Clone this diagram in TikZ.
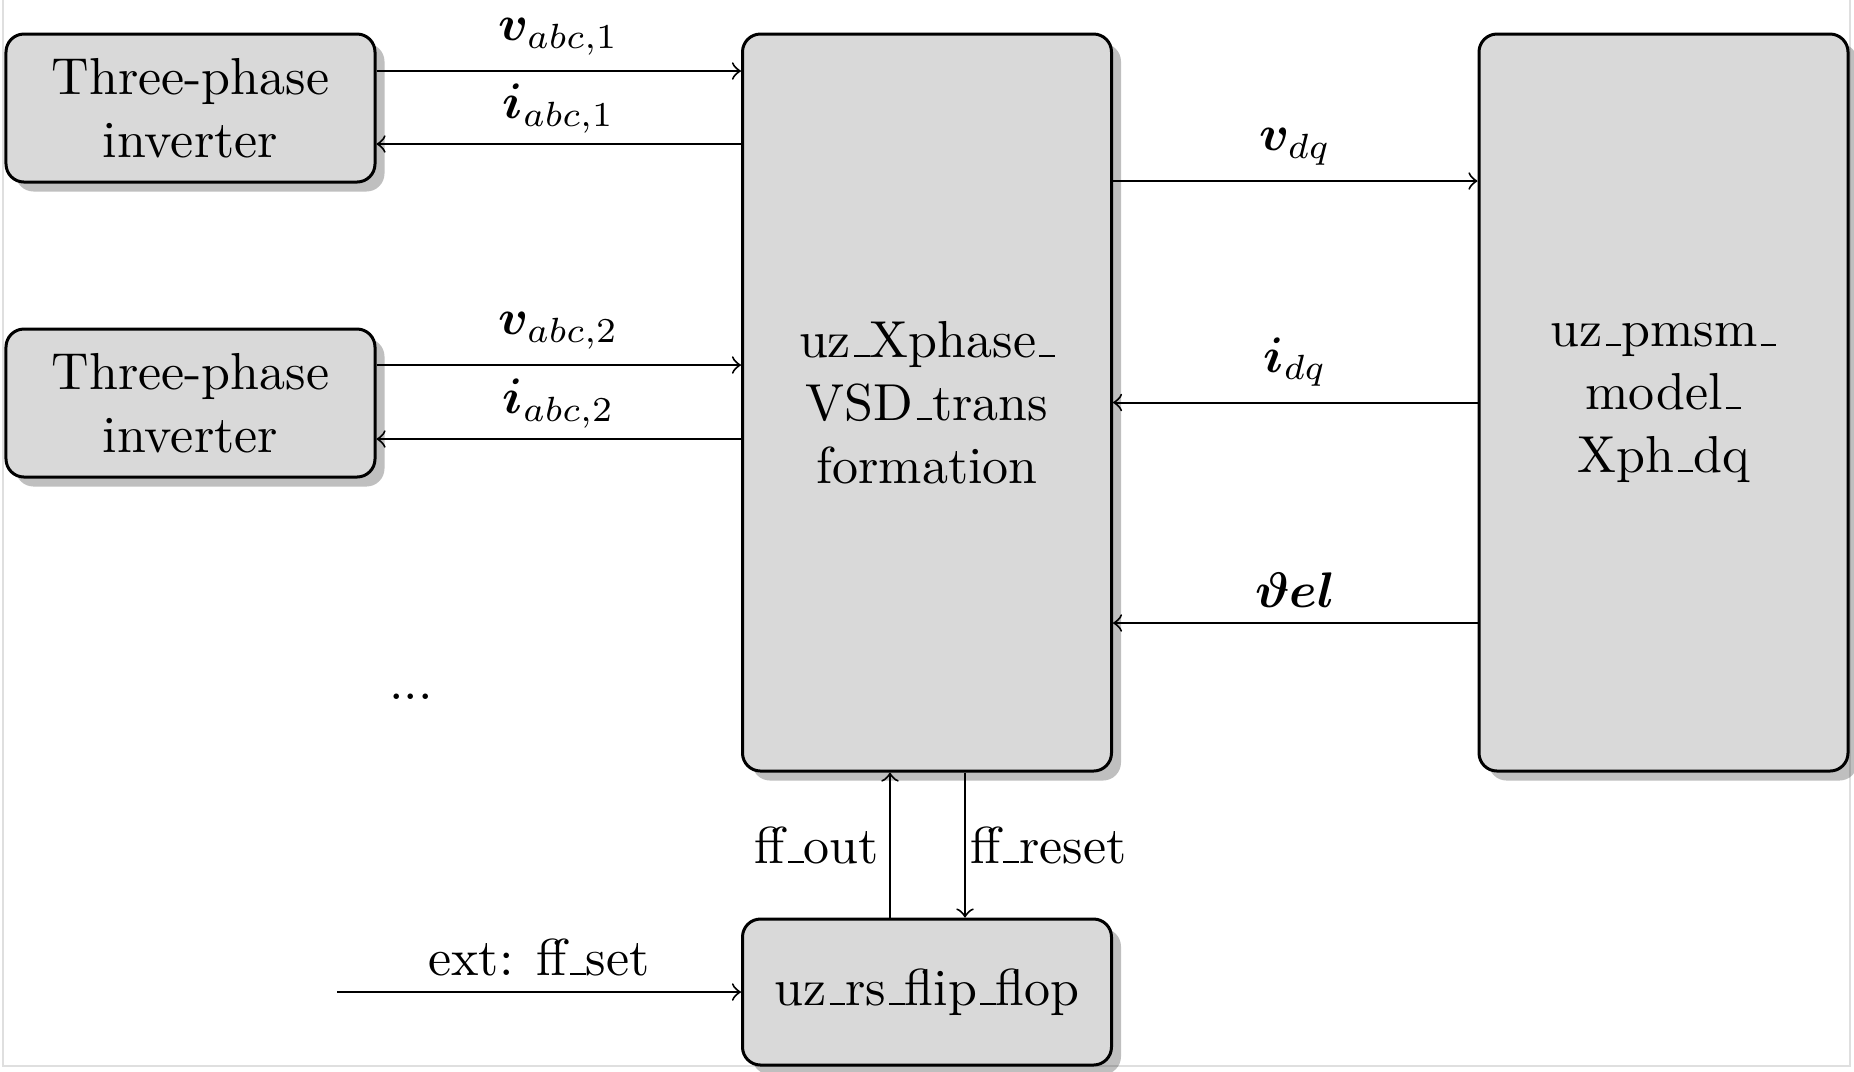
\documentclass[tikz,border=0pt]{standalone}
\usepackage{amsmath,bm}
\usetikzlibrary{shadows,calc}
\newcommand\us{\leavevmode\kern.06em\vbox{\hrule width.3em}}
\begin{document}
\begin{tikzpicture}[x=0.2pt,y=-0.2pt,
  every node/.style={font=\fontsize{10.4pt}{12.6pt}\selectfont},
  blk/.style={draw, line width=0.6pt, fill=black!15, rounded corners=3.6pt, inner sep=0pt,
    minimum width=73.8pt, align=center,
    drop shadow={shadow xshift=1.9pt, shadow yshift=-1.9pt, fill=black, opacity=0.25}},
  sig/.style={->, line width=0.4pt},
  lbl/.style={inner sep=3pt},
  lbli/.style={inner sep=2pt}]
\useasboundingbox (0,0) rectangle (1854,1071);
\draw[gray!25, line width=0.3pt] (3,0) -- (3,1066) -- (1850,1066) -- (1850,0);

\node[blk, minimum height=29.6pt] (inv1) at (190.5,108) {Three-phase\\inverter};
\node[blk, minimum height=29.6pt] (inv2) at (190.5,403) {Three-phase\\inverter};
\node[blk, minimum height=147.4pt] (vsd) at (927,402.5) {uz\us Xphase\us\\VSD\us trans\\formation};
\node[blk, minimum height=147.4pt] (pmsm) at (1663.5,402.5) {uz\us pmsm\us\\model\us\\Xph\us dq};
\node[blk, minimum height=29.2pt] (ff) at (927,992) {uz\us rs\us flip\us flop};

\coordinate (ya) at (0,71);
\coordinate (yb) at (0,144);
\coordinate (yc) at (0,365);
\coordinate (yd) at (0,439);
\coordinate (ye) at (0,181);
\coordinate (yf) at (0,623);
\coordinate (xa) at (890,0);
\coordinate (xb) at (965,0);
\coordinate (src) at (337,992);

\draw[sig] (inv1.east |- ya) -- node[lbl, above] {$\bm{v}_{abc,1}$} (vsd.west |- ya);
\draw[sig] (vsd.west |- yb) -- node[lbli, above] {$\bm{i}_{abc,1}$} (inv1.east |- yb);
\draw[sig] (inv2.east |- yc) -- node[lbl, above] {$\bm{v}_{abc,2}$} (vsd.west |- yc);
\draw[sig] (vsd.west |- yd) -- node[lbli, above] {$\bm{i}_{abc,2}$} (inv2.east |- yd);

\draw[sig] (vsd.east |- ye) -- node[lbl, above] {$\bm{v}_{dq}$} (pmsm.west |- ye);
\draw[sig] (pmsm.west) -- node[lbl, above] {$\bm{i}_{dq}$} (vsd.east);
\draw[sig] (pmsm.west |- yf) -- node[lbl, above] {$\bm{\vartheta el}$} (vsd.east |- yf);

\draw[sig] (ff.north -| xa) -- node[lbli, left] {ff\us out} (vsd.south -| xa);
\draw[sig] (vsd.south -| xb) -- node[lbl, right, inner sep=0.8pt] {ff\us reset} (ff.north -| xb);

\draw[sig] (src) -- node[lbl, above] {ext: ff\us set} (ff.west);

\node (dots) at (411,697) {...};
\end{tikzpicture}
\end{document}
